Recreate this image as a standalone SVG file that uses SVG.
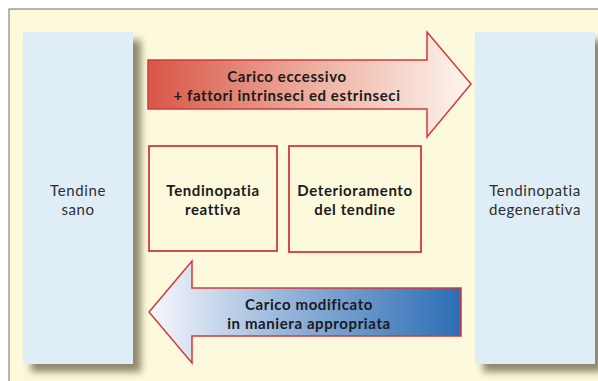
<svg xmlns="http://www.w3.org/2000/svg" width="598" height="381" viewBox="0 0 598 381">
<defs>
<linearGradient id="gRed" x1="0" y1="0" x2="1" y2="0">
<stop offset="0" stop-color="#d85646"/>
<stop offset="0.55" stop-color="#eeb5a6"/>
<stop offset="1" stop-color="#fdf5ef"/>
</linearGradient>
<linearGradient id="gBlue" x1="0" y1="0" x2="1" y2="0">
<stop offset="0" stop-color="#f8f8fc"/>
<stop offset="0.45" stop-color="#93b3da"/>
<stop offset="1" stop-color="#2c6db3"/>
</linearGradient>
<filter id="sh" x="-20%" y="-10%" width="150%" height="130%">
<feGaussianBlur in="SourceAlpha" stdDeviation="3.5"/>
<feOffset dx="8" dy="8" result="b"/>
<feFlood flood-color="#6b6548" flood-opacity="0.75"/>
<feComposite in2="b" operator="in"/>
<feMerge><feMergeNode/><feMergeNode in="SourceGraphic"/></feMerge>
</filter>
</defs>
<style>
.side{fill:#dfedf7;}
.box{fill:#fdf9dc;stroke:#d2383e;stroke-width:1.8;}
.arr{stroke:#d2383e;stroke-width:1.5;}
.t{font-family:Lato,"Liberation Sans",sans-serif;font-size:15px;letter-spacing:0.6px;fill:#2e2e2e;text-anchor:middle;}
.tb{font-family:Lato,"Liberation Sans",sans-serif;font-size:15px;letter-spacing:0.6px;font-weight:bold;fill:#1a1a1a;text-anchor:middle;}
</style>
<rect x="0" y="0" width="598" height="381" fill="#ffffff"/>
<rect x="9" y="9" width="600" height="380" fill="#fdf9dc" stroke="#6e6e6e" stroke-width="1"/>
<g id="tendine-sano">
<rect class="side" x="23" y="32" width="110" height="332" filter="url(#sh)"/>
<text class="t" x="78" y="196">Tendine</text>
<text class="t" x="78" y="215">sano</text>
</g>
<g id="tendinopatia-degenerativa">
<rect class="side" x="475" y="32" width="120" height="332" filter="url(#sh)"/>
<text class="t" x="535" y="196">Tendinopatia</text>
<text class="t" x="535" y="215">degenerativa</text>
</g>
<g id="connectors">
<g id="carico-eccessivo">
<path class="arr" fill="url(#gRed)" d="M148,60 H427 V32 L471,84 L427,137 V109 H148 Z"/>
<text class="tb" x="287" y="82">Carico eccessivo</text>
<text class="tb" x="287" y="101">+ fattori intrinseci ed estrinseci</text>
</g>
<g id="carico-modificato">
<path class="arr" fill="url(#gBlue)" d="M461,288 H192 V261 L149,312 L192,363 V336 H461 Z"/>
<text class="tb" x="309" y="309.5">Carico modificato</text>
<text class="tb" x="309" y="328.5">in maniera appropriata</text>
</g>
</g>
<g id="tendinopatia-reattiva">
<rect class="box" x="149" y="146" width="128" height="105"/>
<text class="tb" x="213" y="196">Tendinopatia</text>
<text class="tb" x="213" y="215">reattiva</text>
</g>
<g id="deterioramento">
<rect class="box" x="289" y="146" width="132" height="106"/>
<text class="tb" x="355" y="196">Deterioramento</text>
<text class="tb" x="355" y="215">del tendine</text>
</g>
</svg>
